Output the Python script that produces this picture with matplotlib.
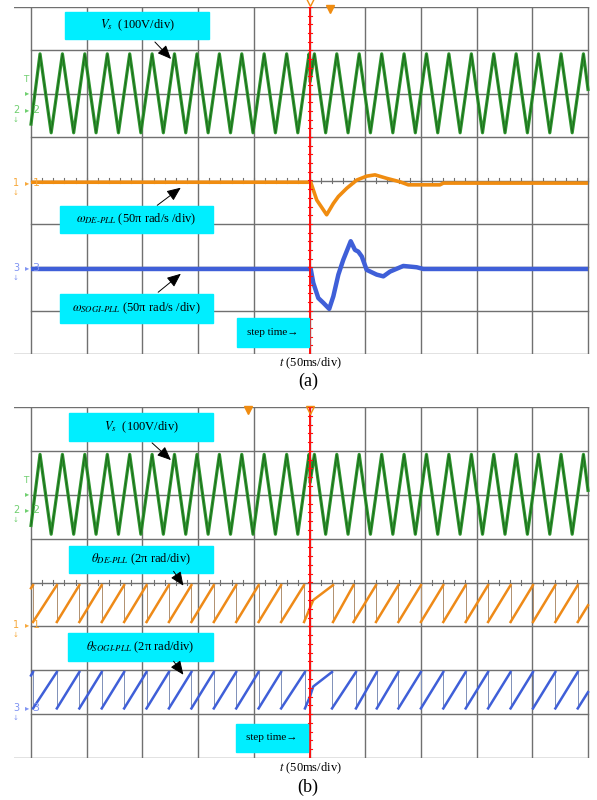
import matplotlib.pyplot as plt
import numpy as np
from matplotlib.patches import Rectangle, FancyArrowPatch

plt.rcParams['font.family'] = ['Liberation Serif', 'DejaVu Serif']
plt.rcParams['mathtext.fontset'] = 'stix'

# time in ms (50 ms/div, 10 div on screen), amplitude in scope divisions
step_ms = 250.4

# Vs (100 V/div), same capture in both panels
vs_peak_ms = [8.1, 28.2, 48.3, 68.5, 88.6, 108.7, 128.8, 149.0, 169.1, 189.2, 209.3, 229.5, 249.6,
              254.4, 274.5, 294.6, 314.8, 334.9, 355.0, 375.1, 395.3, 415.4, 435.5, 455.6, 475.8, 495.9]
vs_trough_ms = [18.1, 38.3, 58.4, 78.5, 98.6, 118.8, 138.9, 159.0, 179.1, 199.3, 219.4, 239.5,
                264.5, 284.6, 304.7, 324.8, 345.0, 365.1, 385.2, 405.3, 425.5, 445.6, 465.7, 485.8]
vs_peak_div = 0.92
vs_trough_div = -0.90
vs_extra_ms = [0.0, 250.4, 250.5, 500.0]
vs_extra_div = [-0.70, 0.77, 0.28, 0.10]

# (a) estimated frequency, 50*pi rad/s/div
w_de_ms = [0, 251.1, 256.5, 265.4, 271.4, 275.9, 283.4, 292.4, 301.3, 308.8, 319.3, 331.2, 338.7,
           367.1, 370.1, 500]
w_de_div = [-0.04, -0.04, -0.45, -0.79, -0.53, -0.37, -0.18, 0.01, 0.10, 0.13, 0.05, -0.03, -0.10,
            -0.10, -0.06, -0.06]
w_sogi_ms = [0, 251.1, 253.4, 257.9, 262.4, 267.7, 271.4, 275.9, 280.3, 287.0, 290.8, 293.8, 296.9,
             301.3, 310.3, 316.3, 322.3, 334.2, 346.2, 352.2, 500]
w_sogi_div = [-2.04, -2.04, -2.36, -2.71, -2.82, -2.96, -2.67, -2.17, -1.83, -1.40, -1.60, -1.64,
              -1.75, -2.06, -2.17, -2.21, -2.10, -1.97, -2.00, -2.04, -2.04]

# (b) estimated phase angle, 2*pi rad/div (sawtooth wrap instants)
th_de_wrap = [1.8, 23.2, 43.4, 63.5, 83.6, 103.7, 123.8, 144.0, 164.1, 184.2, 204.3, 224.5, 245.1,
              271.1, 289.5, 309.7, 329.8, 350.0, 370.1, 390.2, 410.3, 430.5, 450.6, 470.7, 490.8]
th_de_lo, th_de_hi = -0.90, -0.06
th_de_start, th_de_end = -0.13, -0.52
th_de_bend_ms = [250.4, 253.4]
th_de_bend_div = [-0.58, -0.40]

th_sogi_wrap = [1.8, 23.2, 43.4, 63.5, 83.6, 103.7, 123.8, 144.0, 164.1, 184.2, 204.3, 224.5, 245.9,
                270.2, 291.7, 310.4, 329.8, 350.0, 370.1, 390.2, 410.3, 430.5, 450.6, 470.7, 490.8]
th_sogi_lo, th_sogi_hi = -2.87, -2.04
th_sogi_start, th_sogi_end = -2.12, -2.50
th_sogi_bend_ms = [250.4, 253.4]
th_sogi_bend_div = [-2.60, -2.37]

W, H = 597, 800
CYAN = '#00eeff'
GRID = '#707070'


def fp(x, y):
    return x / W, 1 - y / H


def sawtooth(wraps, lo, hi, start, end, bend_t, bend_v):
    ramps_t, ramps_v = [0.0], [start]
    for w in wraps:
        for bt, bv in zip(bend_t, bend_v):
            if ramps_t[-1] < bt < w:
                ramps_t.append(bt)
                ramps_v.append(bv)
        ramps_t += [w, np.nan, w]
        ramps_v += [hi, np.nan, lo]
    ramps_t.append(500.0)
    ramps_v.append(end)
    return np.array(ramps_t), np.array(ramps_v)


fig = plt.figure(figsize=(5.97, 8.0), dpi=100)
xl = ((14 - 31) / 1.114, (597 - 31) / 1.114)


def scope_axes(top, bottom):
    ax = fig.add_axes([14 / W, 1 - bottom / H, 583 / W, (bottom - top) / H])
    ax.set_xlim(*xl)
    ax.set_ylim(-4, 4)
    ax.axis('off')
    for t in range(0, 501, 50):
        ax.plot([t, t], [-4, 4], color=GRID, lw=1.0, zorder=1)
    for y in range(-3, 4):
        ax.plot([0, 500], [y, y], color=GRID, lw=1.0, zorder=1)
    for y in (-4, 4):
        ax.plot([xl[0], 500], [y, y], color=GRID, lw=1.0, zorder=1)
    for t in np.arange(0, 501, 10):
        ax.plot([t, t], [-0.06, 0.06], color=GRID, lw=0.8, zorder=1)
    return ax


def step_line(ax):
    ax.plot([step_ms, step_ms], [-4, 4], color='#ff1010', lw=1.4, zorder=6)
    for y in np.arange(-4, 4.01, 0.2):
        ax.plot([step_ms - 1.6, step_ms + 1.6], [y, y], color='#ff1010', lw=0.8, zorder=6)


# Vs vertices
vs_t = np.array(vs_peak_ms + vs_trough_ms + vs_extra_ms)
vs_v = np.array([vs_peak_div] * len(vs_peak_ms) + [vs_trough_div] * len(vs_trough_ms) + vs_extra_div)
order = np.argsort(vs_t, kind='stable')
vs_t, vs_v = vs_t[order], vs_v[order]

# ---------------- panel (a)
ax_a = scope_axes(7, 354)
ax_a.plot(vs_t, vs_v + 2, color='#2e962e', lw=2.3, zorder=3)
ax_a.plot(vs_t, vs_v + 2, color='#124f12', lw=0.6, alpha=0.7, zorder=3)
ax_a.plot(w_de_ms, w_de_div, color='#f08c10', lw=2.6, zorder=3, solid_capstyle='butt')
ax_a.plot(w_sogi_ms, w_sogi_div, color='#3f5fd8', lw=3.2, zorder=3, solid_capstyle='butt')
step_line(ax_a)
ax_a.plot([268.4], [3.95], marker='v', ms=6, color='#f08c10', clip_on=False, zorder=7)
ax_a.plot([step_ms], [4.12], marker='v', ms=6, mfc='none', mec='#f08c10', clip_on=False, zorder=7)

# ---------------- panel (b)
ax_b = scope_axes(407, 758)
ax_b.plot(vs_t, vs_v + 2, color='#2e962e', lw=2.3, zorder=3)
ax_b.plot(vs_t, vs_v + 2, color='#124f12', lw=0.6, alpha=0.7, zorder=3)
for wraps, lo, hi, s, e, bt, bv, c, dc in [
        (th_de_wrap, th_de_lo, th_de_hi, th_de_start, th_de_end, th_de_bend_ms, th_de_bend_div,
         '#ee8a18', '#b09070'),
        (th_sogi_wrap, th_sogi_lo, th_sogi_hi, th_sogi_start, th_sogi_end, th_sogi_bend_ms,
         th_sogi_bend_div, '#3f5fd8', '#8090b8')]:
    st, sv = sawtooth(wraps, lo, hi, s, e, bt, bv)
    ax_b.plot(st, sv, color=c, lw=1.8, zorder=3)
    ax_b.vlines(wraps, lo, hi, color=dc, lw=0.7, zorder=2)
step_line(ax_b)
ax_b.plot([194.8], [3.93], marker='v', ms=6, color='#f08c10', clip_on=False, zorder=7)
ax_b.plot([step_ms], [3.93], marker='v', ms=6, mfc='none', mec='#f08c10', clip_on=False, zorder=7)


# ---------------- annotations (figure pixel positions)
def box(x0, y0, x1, y1, text, size=9):
    fig.add_artist(Rectangle(fp(x0, y1), (x1 - x0) / W, (y1 - y0) / H,
                             transform=fig.transFigure, color=CYAN, zorder=8))
    fig.text(*fp((x0 + x1) / 2, (y0 + y1) / 2), text, ha='center', va='center',
             fontsize=size, zorder=9)


def arrow(x0, y0, x1, y1):
    fig.add_artist(FancyArrowPatch(fp(x0, y0), fp(x1, y1), transform=fig.transFigure,
                                   arrowstyle='-|>,head_length=0.7,head_width=0.3',
                                   mutation_scale=12, color='black', lw=0.7, zorder=9))


def small(x, y, s, color, size):
    fig.text(*fp(x, y), s, color=color, fontsize=size, family='DejaVu Sans',
             ha='center', va='center')


def chan(x, y, label, color):
    small(x - 11, y, label, color, 7)
    small(x - 11, y + 10, '↓', color, 5)
    small(x, y, '▸', color, 6)
    small(x + 9, y, label, color, 8)


GREEN_L, ORANGE_L, BLUE_L = '#6fcf6f', '#f7a83a', '#7f93f2'

box(65, 12, 209, 39, r'$V_s$  (100V/div)')
box(60, 206, 213, 233, r'$\omega_{DE\text{-}PLL}$ (50π rad/s /div)')
box(60, 294, 213, 323, r'$\omega_{SOGI\text{-}PLL}$ (50π rad/s /div)')
box(237, 318, 309, 347, 'step time→', size=8)
arrow(153, 40, 173, 61)
arrow(155, 207, 183, 186)
arrow(156, 294, 183, 272)
small(26, 80, 'T', GREEN_L, 6.5)
small(27, 93, '▸', GREEN_L, 6)
chan(27, 110, '2', GREEN_L)
chan(27, 183, '1', ORANGE_L)
chan(27, 268, '3', BLUE_L)
fig.text(*fp(310, 363), r'$t$ (50ms/div)', ha='center', va='center', fontsize=9)
fig.text(*fp(308, 381), '(a)', ha='center', va='center', fontsize=13)

box(69, 413, 213, 441, r'$V_s$  (100V/div)')
box(69, 546, 213, 573, r'$\theta_{DE\text{-}PLL}$ (2π rad/div)')
box(68, 633, 213, 661, r'$\theta_{SOGI\text{-}PLL}$ (2π rad/div)')
box(236, 724, 308, 752, 'step time→', size=8)
arrow(150, 441, 173, 462)
arrow(172, 569, 185, 588)
arrow(172, 659, 185, 677)
small(26, 481, 'T', GREEN_L, 6.5)
small(27, 494, '▸', GREEN_L, 6)
chan(27, 510, '2', GREEN_L)
chan(27, 625, '1', ORANGE_L)
chan(27, 708, '3', BLUE_L)
fig.text(*fp(310, 768), r'$t$ (50ms/div)', ha='center', va='center', fontsize=9)
fig.text(*fp(308, 787), '(b)', ha='center', va='center', fontsize=13)

fig.savefig('out.png', dpi=100)
